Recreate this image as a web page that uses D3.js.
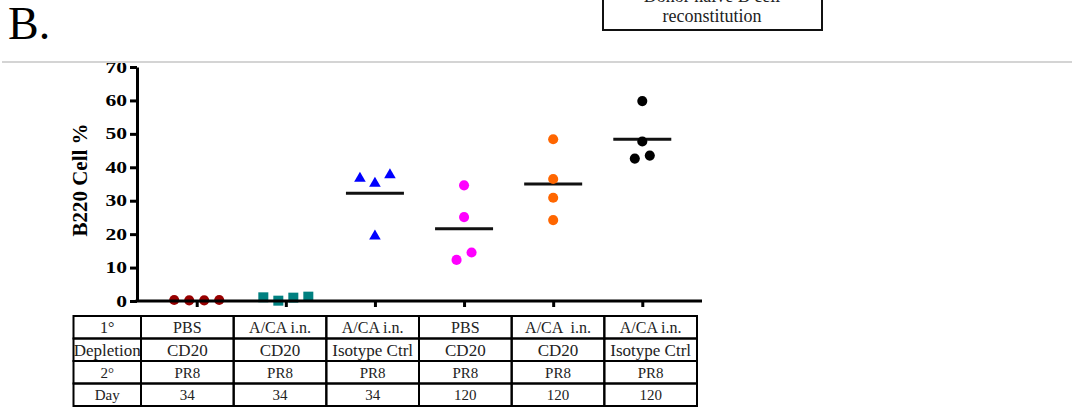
<!DOCTYPE html>
<html>
<head>
<meta charset="utf-8">
<script src="https://cdn.jsdelivr.net/npm/d3@7"></script>
<style>
  body { margin: 0; background: #fff; }
  svg { display: block; font-family: "Liberation Serif", "Times New Roman", serif; }
</style>
</head>
<body>
<svg width="1072" height="408"></svg>
<script>
// groups (one per table column)
var groups = ["g1", "g2", "g3", "g4", "g5", "g6"];

// B220 cell % per mouse
var pbsCd20Day34 = [0.3, 0.2, 0.2, 0.3];
var acaCd20Day34 = [1.1, 0.1, 1.0, 1.3];
var acaIsoDay34 = [36.7, 35.2, 37.7, 19.4];
var pbsCd20Day120 = [34.6, 25.1, 12.3, 14.5];
var acaCd20Day120 = [48.4, 36.5, 30.9, 24.2];
var acaIsoDay120 = [59.8, 47.7, 42.6, 43.5];

var seriesValues = [pbsCd20Day34, acaCd20Day34, acaIsoDay34, pbsCd20Day120, acaCd20Day120, acaIsoDay120];
var seriesColors = ["#990000", "#008080", "#0000ff", "#ff00ff", "#ff6600", "#000000"];
var seriesShapes = ["circle", "square", "triangle", "circle", "circle", "circle"];

var yTicks = [0, 10, 20, 30, 40, 50, 60, 70];

// table under the chart
var rowLabels = ["1\u00b0", "Depletion", "2\u00b0", "Day"];
var primary = ["PBS", "A/CA i.n.", "A/CA i.n.", "PBS", "A/CA  i.n.", "A/CA i.n."];
var depletion = ["CD20", "CD20", "Isotype Ctrl", "CD20", "CD20", "Isotype Ctrl"];
var secondary = ["PR8", "PR8", "PR8", "PR8", "PR8", "PR8"];
var day = ["34", "34", "34", "120", "120", "120"];
var tableRows = [primary, depletion, secondary, day];

var svg = d3.select("svg");

var x = d3.scalePoint().domain(groups).range([137, 702]).padding(0.67);
var y = d3.scaleLinear().domain([0, 70]).range([301, 67]);

var shapeType = { circle: d3.symbolCircle, square: d3.symbolSquare, triangle: d3.symbolTriangle };
var shapeSize = { circle: 80, square: 100, triangle: 58 };

// spread points that sit close together in value sideways
function spread(vals) {
  var idx = vals.map(function(v, i) { return i; }).sort(function(a, b) { return vals[a] - vals[b]; });
  var clusters = [], cur = [idx[0]];
  for (var k = 1; k < idx.length; k++) {
    if (vals[idx[k]] - vals[idx[k - 1]] < 3) cur.push(idx[k]);
    else { clusters.push(cur); cur = [idx[k]]; }
  }
  clusters.push(cur);
  var off = vals.map(function() { return 0; });
  clusters.forEach(function(c) {
    c.sort(function(a, b) { return a - b; });
    c.forEach(function(i, j) { off[i] = (j - (c.length - 1) / 2) * 15; });
  });
  return off;
}

var plot = svg.append("g");

seriesValues.forEach(function(vals, gi) {
  var g = groups[gi];
  var off = spread(vals);
  var sym = d3.symbol().type(shapeType[seriesShapes[gi]]).size(shapeSize[seriesShapes[gi]]);

  // mean line for groups 3-6
  if (gi > 1) {
    var m = d3.mean(vals);
    plot.append("line")
        .attr("x1", x(g) - 29).attr("x2", x(g) + 29)
        .attr("y1", y(m)).attr("y2", y(m))
        .attr("stroke", "#111").attr("stroke-width", 3);
  }

  plot.selectAll(".pt" + gi)
    .data(vals)
    .enter().append("path")
      .attr("class", "pt" + gi)
      .attr("d", sym)
      .attr("transform", function(d, i) { return "translate(" + (x(g) + off[i]) + "," + y(d) + ")"; })
      .attr("fill", seriesColors[gi]);
});

// axes
var yAxis = svg.append("g")
    .attr("transform", "translate(137,0)")
    .call(d3.axisLeft(y).tickValues(yTicks).tickSize(7).tickSizeOuter(0).tickPadding(3));
yAxis.select(".domain").attr("stroke-width", 3).attr("stroke", "#000");
yAxis.selectAll(".tick line").attr("stroke-width", 3).attr("stroke", "#000");
// tick labels in the figure are drawn wide
yAxis.selectAll(".tick text")
    .attr("font-family", "Liberation Serif, serif")
    .attr("font-weight", "bold")
    .attr("font-size", 16)
    .attr("fill", "#000")
    .attr("x", -10 / 1.35)
    .attr("transform", "scale(1.35,1)");

var xAxis = svg.append("g")
    .attr("transform", "translate(0,301)")
    .call(d3.axisBottom(x).tickSize(6).tickSizeOuter(0).tickFormat(""));
xAxis.select(".domain").attr("d", "M135.5,0H702").attr("stroke-width", 3).attr("stroke", "#000");
xAxis.selectAll(".tick line").attr("stroke-width", 3).attr("stroke", "#000");

svg.append("text")
    .attr("transform", "translate(87,180) rotate(-90)")
    .attr("text-anchor", "middle")
    .attr("font-weight", "bold")
    .attr("font-size", 21)
    .text("B220 Cell %");

// table
var col = d3.scaleBand().domain(groups).range([141, 697]);
var row = d3.scaleBand().domain(d3.range(4)).range([316, 406]);
var rowFont = [16, 17, 15, 15];
var tbl = svg.append("g");

rowLabels.forEach(function(lab, r) {
  tbl.append("rect")
      .attr("x", 73.5).attr("y", row(r))
      .attr("width", col.range()[0] - 73.5).attr("height", row.bandwidth())
      .attr("fill", "none").attr("stroke", "#000").attr("stroke-width", 2);
  tbl.append("text")
      .attr("x", (73.5 + col.range()[0]) / 2)
      .attr("y", row(r) + row.bandwidth() / 2)
      .attr("dy", "0.35em")
      .attr("text-anchor", "middle")
      .attr("font-size", rowFont[r])
      .attr("fill", "#222")
      .text(lab);

  tbl.selectAll(".c" + r)
    .data(tableRows[r])
    .enter().append("rect")
      .attr("x", function(d, i) { return col(groups[i]); })
      .attr("y", row(r))
      .attr("width", col.bandwidth()).attr("height", row.bandwidth())
      .attr("fill", "none").attr("stroke", "#000").attr("stroke-width", 2);

  tbl.selectAll(".t" + r)
    .data(tableRows[r])
    .enter().append("text")
      .attr("x", function(d, i) { return col(groups[i]) + col.bandwidth() / 2; })
      .attr("y", row(r) + row.bandwidth() / 2)
      .attr("dy", "0.35em")
      .attr("text-anchor", "middle")
      .attr("font-size", rowFont[r])
      .attr("fill", "#222")
      .attr("xml:space", "preserve")
      .style("white-space", "pre")
      .text(function(d) { return d; });
});

// header strip: page is cropped above the rule
svg.append("rect").attr("x", 0).attr("y", 0).attr("width", 1072).attr("height", 61).attr("fill", "#fff");
svg.append("line")
    .attr("x1", 2).attr("x2", 1072).attr("y1", 62).attr("y2", 62)
    .attr("stroke", "#d4d4d4").attr("stroke-width", 2);

svg.append("text")
    .attr("x", 8).attr("y", 39)
    .attr("font-size", 46)
    .text("B.");

svg.append("rect")
    .attr("x", 603).attr("y", -6).attr("width", 219).attr("height", 36)
    .attr("fill", "#fff").attr("stroke", "#111").attr("stroke-width", 2);
svg.append("text")
    .attr("x", 712).attr("y", 2)
    .attr("text-anchor", "middle").attr("font-size", 18).attr("fill", "#222")
    .text("Donor naive B cell");
svg.append("text")
    .attr("x", 712).attr("y", 22)
    .attr("text-anchor", "middle").attr("font-size", 18).attr("fill", "#222")
    .text("reconstitution");
</script>
</body>
</html>
